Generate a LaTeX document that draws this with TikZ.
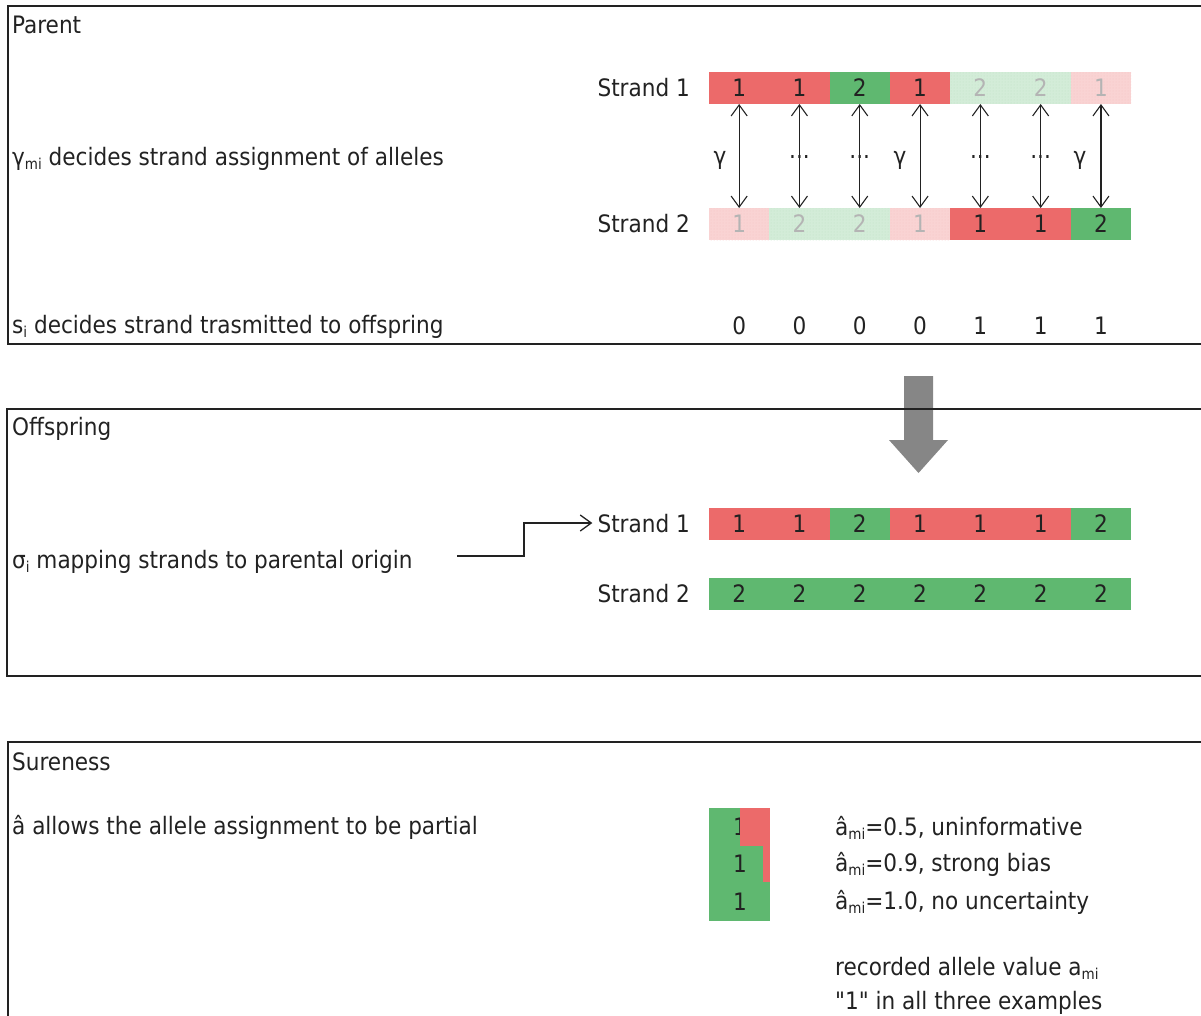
\documentclass[tikz,border=0pt]{standalone}
\usepackage{fontspec}
\setmainfont{DejaVu Sans Condensed}
\newfontfamily\plainfont{DejaVu Sans Condensed}
\usetikzlibrary{arrows.meta,patterns}
\definecolor{cred}{HTML}{EC6A6A}
\definecolor{cgreen}{HTML}{5FB870}
\definecolor{fred}{HTML}{F9D3D3}
\definecolor{fgreen}{HTML}{D3ECD8}
\definecolor{txt}{HTML}{222222}
\definecolor{ftxt}{HTML}{B4B4B4}
\newcommand{\lowsub}[1]{\raisebox{-0.3ex}{\fontsize{15}{15}\selectfont #1}}
\tikzset{
  every node/.style={text=txt, font=\fontsize{24}{26}\selectfont},
  cellbox/.style={minimum width=60.3pt, minimum height=32pt, inner sep=0pt, outer sep=0pt, draw=none},
  rc/.style={cellbox, fill=cred},
  gc/.style={cellbox, fill=cgreen},
  frc/.style={cellbox, fill=fred, text=ftxt, postaction={pattern=dots, pattern color=cred!40}},
  fgc/.style={cellbox, fill=fgreen, text=ftxt, postaction={pattern=dots, pattern color=cgreen!40}},
  lbl/.style={anchor=west, inner sep=0pt, yshift=-1.5pt},
  rlbl/.style={anchor=east, inner sep=0pt},
  frame/.style={line width=2.6pt, draw=txt},
  link/.style={line width=1.1pt, draw=txt, {Straight Barb[length=11pt,width=16pt]}-{Straight Barb[length=11pt,width=16pt]}},
}
\begin{document}
\begin{tikzpicture}[x=1pt,y=-1pt]
\useasboundingbox (0,0) rectangle (1201,1015);
% big arrow (under frame)
\fill[gray!95] (904,376) -- (933,376) -- (933,440) -- (948,440) -- (918.5,473) -- (889,440) -- (904,440) -- cycle;
% frames
\draw[frame] (1210,6) -- (8,6) -- (8,344) -- (1210,344);
\draw[frame] (1210,409) -- (7,409) -- (7,676) -- (1210,676);
\draw[frame] (1210,742) -- (8,742) -- (8,1030);
% Parent
\node[lbl] (hp) at (12,23) {Parent};
\node[lbl] (tg) at (12,157) {γ\lowsub{mi} decides strand assignment of alleles};
\node[lbl] (ts) at (12,325) {s\lowsub{i} decides strand trasmitted to offspring};
\node[rlbl] (ps1) at (690,88) {Strand 1};
\node[rlbl] (ps2) at (690,224) {Strand 2};
\foreach \i/\s/\v in {1/rc/1,2/rc/1,3/gc/2,4/rc/1,5/fgc/2,6/fgc/2,7/frc/1}{
  \node[\s] (t\i) at (709+60.3*\i-30.15,88) {\v};
}
\foreach \i/\s/\v in {1/frc/1,2/fgc/2,3/fgc/2,4/frc/1,5/rc/1,6/rc/1,7/gc/2}{
  \node[\s] (b\i) at (709+60.3*\i-30.15,224) {\v};
}
\foreach \i in {1,...,7}{
  \draw[link] (t\i.south) -- (b\i.north);
}
\foreach \i/\v in {1/0,2/0,3/0,4/0,5/1,6/1,7/1}{
  \node (z\i) at (709+60.3*\i-30.15,326) {\v};
}
\node (g1) at (720,160) {γ};
\node (g4) at (900,160) {γ};
\node (g7) at (1080,160) {γ};
\foreach \i in {2,3,5,6}{
  \node (d\i) at (709+60.3*\i-30.15,157) {...};
}
% Offspring
\node[lbl] (ho) at (12,427) {Offspring};
\node[lbl] (tsig) at (12,560) {σ\lowsub{i} mapping strands to parental origin};
\node[rlbl] (os1) at (690,524) {Strand 1};
\node[rlbl] (os2) at (690,594) {Strand 2};
\foreach \i/\s/\v in {1/rc/1,2/rc/1,3/gc/2,4/rc/1,5/rc/1,6/rc/1,7/gc/2}{
  \node[\s] (o\i) at (709+60.3*\i-30.15,524) {\v};
}
\foreach \i in {1,...,7}{
  \node[gc] (p\i) at (709+60.3*\i-30.15,594) {2};
}
\coordinate (mstart) at (457,556);
\draw[line width=1.3pt, draw=txt, -{Straight Barb[length=11pt,width=16pt]}] (mstart) -- (524,556) -- (524,523) -- ([xshift=-5pt]os1.west |- 0,523);
% Sureness
\node[lbl] (hs) at (12,760) {Sureness};
\node[lbl] (ta) at (12,826) {â allows the allele assignment to be partial};
\fill[cgreen] (709,808) rectangle (769.5,920.5);
\node (s1) at (740,827) {1};
\node (s2) at (740,864) {1};
\node (s3) at (740,902) {1};
\fill[cred] (739.5,808) rectangle (769.5,845.5);
\fill[cred] (763,845.5) rectangle (769.5,882);
\node[lbl] (r1) at (835,826) {â\lowsub{mi}=0.5, uninformative};
\node[lbl] (r2) at (835,863) {â\lowsub{mi}=0.9, strong bias};
\node[lbl] (r3) at (835,901) {â\lowsub{mi}=1.0, no uncertainty};
\node[lbl] (r4) at (835,967) {recorded allele value a\lowsub{mi}};
\node[lbl] (r5) at (835,1001) {{\plainfont"}1{\plainfont"} in all three examples};
\end{tikzpicture}
\end{document}
